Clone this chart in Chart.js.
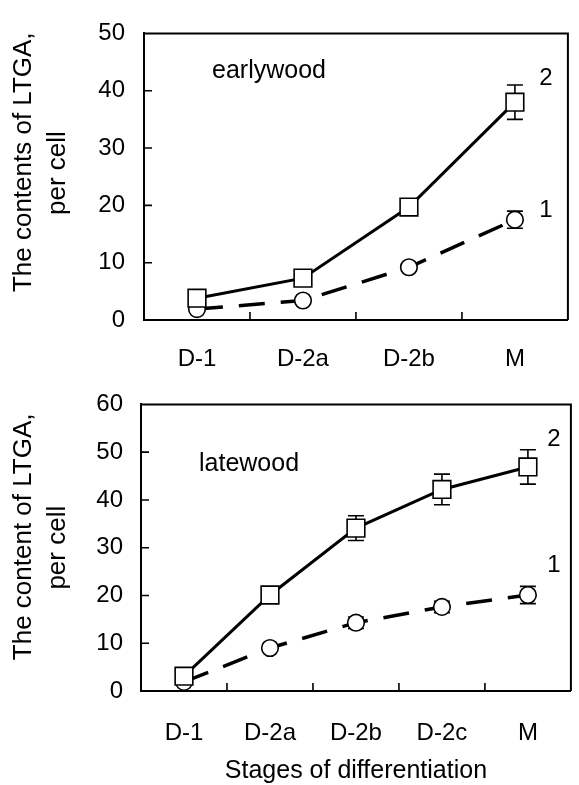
<!DOCTYPE html>
<html>
<head>
<meta charset="utf-8">
<script src="https://cdn.jsdelivr.net/npm/chart.js@4.4.0/dist/chart.umd.min.js"></script>
<style>
  html, body { margin: 0; padding: 0; background: #fff; overflow: hidden; }
  #wrap { width: 579px; height: 785px; overflow: hidden; }
  canvas { display: block; }
</style>
</head>
<body>
<div id="wrap">
  <canvas id="early" width="582" height="372"></canvas>
  <canvas id="late" width="585" height="413"></canvas>
</div>
<script>
// earlywood (top panel)
const earlyStages = ["D-1", "D-2a", "D-2b", "M"];
const earlyCurve1 = [1.9, 3.4, 9.2, 17.5];
const earlyCurve1Err = [0, 0, 0, 1.5];
const earlyCurve2 = [3.8, 7.3, 19.7, 38.0];
const earlyCurve2Err = [0, 0, 0, 3.0];

// latewood (bottom panel)
const lateStages = ["D-1", "D-2a", "D-2b", "D-2c", "M"];
const lateCurve1 = [1.9, 9.0, 14.3, 17.6, 20.1];
const lateCurve1Err = [0, 0, 1.2, 1.2, 1.8];
const lateCurve2 = [3.1, 20.1, 34.1, 42.2, 46.9];
const lateCurve2Err = [0, 0, 2.6, 3.2, 3.6];

const FONT = "'Liberation Sans', Arial, sans-serif";
Chart.defaults.font.family = FONT;
Chart.defaults.color = "#000";

// error bars go under the lines and markers
const errorBars = {
  id: "errorBars",
  beforeDatasetsDraw(chart) {
    const ctx = chart.ctx;
    const y = chart.scales.y;
    ctx.save();
    ctx.strokeStyle = "#000";
    ctx.lineWidth = 1.6;
    chart.data.datasets.forEach((ds, di) => {
      if (!ds.errors) return;
      const meta = chart.getDatasetMeta(di);
      ds.data.forEach((v, i) => {
        const e = ds.errors[i];
        if (!e) return;
        const x = meta.data[i].x;
        const top = y.getPixelForValue(v + e);
        const bot = y.getPixelForValue(v - e);
        ctx.beginPath();
        ctx.moveTo(x, top); ctx.lineTo(x, bot);
        ctx.moveTo(x - 8, top); ctx.lineTo(x + 8, top);
        ctx.moveTo(x - 8, bot); ctx.lineTo(x + 8, bot);
        ctx.stroke();
      });
    });
    ctx.restore();
  }
};

// top/right frame lines, inward tick marks and text notes
const frame = {
  id: "frame",
  afterDraw(chart, args, opts) {
    const ctx = chart.ctx;
    const a = chart.chartArea;
    const xs = chart.scales.x, ys = chart.scales.y;
    ctx.save();
    ctx.strokeStyle = "#000";
    ctx.lineWidth = 2;
    ctx.beginPath();
    ctx.moveTo(a.left, a.top); ctx.lineTo(a.right, a.top); ctx.lineTo(a.right, a.bottom);
    ctx.stroke();
    ctx.lineWidth = 1.6;
    ctx.beginPath();
    const n = chart.data.labels.length;
    for (let i = 1; i < n; i++) {
      const x = (xs.getPixelForValue(i - 1) + xs.getPixelForValue(i)) / 2;
      ctx.moveTo(x, a.bottom); ctx.lineTo(x, a.bottom - 8);
    }
    ys.ticks.forEach((t) => {
      if (t.value <= ys.min || t.value >= ys.max) return;
      const y = ys.getPixelForValue(t.value);
      ctx.moveTo(a.left, y); ctx.lineTo(a.left + 8, y);
    });
    ctx.stroke();
    ctx.fillStyle = "#000";
    ctx.textBaseline = "middle";
    (opts.notes || []).forEach((nt) => {
      ctx.font = nt.size + "px " + FONT;
      ctx.textAlign = nt.align || "left";
      const x = nt.atLast ? xs.getPixelForValue(n - 1) + nt.dx : a.left + nt.dx;
      ctx.fillText(nt.text, x, ys.getPixelForValue(nt.y));
    });
    ctx.restore();
  }
};

function makePanel(id, stages, c1, e1, c2, e2, yMax, yTitle, xTitle, layout, notes) {
  return new Chart(document.getElementById(id), {
    type: "line",
    data: {
      labels: stages,
      datasets: [
        {
          label: "2",
          data: c2,
          errors: e2,
          order: 1,
          borderColor: "#000",
          borderWidth: 3,
          pointStyle: "rect",
          pointRadius: 12.5,
          pointBorderWidth: 1.6,
          pointBackgroundColor: "#fff",
          pointBorderColor: "#000",
          clip: false,
        },
        {
          label: "1",
          data: c1,
          errors: e1,
          order: 2,
          borderColor: "#000",
          borderWidth: 3.5,
          borderDash: [26, 16],
          pointStyle: "circle",
          pointRadius: 8.3,
          pointBorderWidth: 1.6,
          pointBackgroundColor: "#fff",
          pointBorderColor: "#000",
          clip: false,
        },
      ],
    },
    options: {
      responsive: false,
      animation: false,
      layout: { padding: { top: layout.top, left: 0, right: 0, bottom: 0 } },
      plugins: {
        legend: { display: false },
        tooltip: { enabled: false },
        frame: { notes: notes },
      },
      scales: {
        x: {
          type: "category",
          offset: true,
          grid: { display: false, drawTicks: false, tickLength: 0 },
          border: { display: true, color: "#000", width: 2 },
          ticks: { font: { size: 24 }, padding: layout.xPad, maxRotation: 0, autoSkip: false },
          title: xTitle
            ? { display: true, text: xTitle, font: { size: 25, lineHeight: 1 }, padding: { top: 0, bottom: 1 } }
            : { display: false },
          afterFit(s) { s.height = layout.xHeight; },
        },
        y: {
          min: 0,
          max: yMax,
          grid: { display: false, drawTicks: false, tickLength: 0 },
          border: { display: true, color: "#000", width: 2 },
          ticks: { stepSize: 10, font: { size: 24 }, padding: layout.yPad },
          title: { display: true, text: yTitle, font: { size: 26, lineHeight: 1.3 }, padding: { top: 7, bottom: 0 } },
          afterFit(s) { s.width = layout.yWidth; },
        },
      },
    },
    plugins: [errorBars, frame],
  });
}

makePanel("early", earlyStages, earlyCurve1, earlyCurve1Err, earlyCurve2, earlyCurve2Err, 50,
  ["    The contents of LTGA,", " per cell"], null,
  { top: 25, xHeight: 52, xPad: 25, yPad: 19, yWidth: 144 },
  [
    { text: "earlywood", size: 25, dx: 68, y: 43.5 },
    { text: "2", size: 24, dx: 31, y: 42.2, atLast: true, align: "center" },
    { text: "1", size: 24, dx: 31, y: 19.2, atLast: true, align: "center" },
  ]);

makePanel("late", lateStages, lateCurve1, lateCurve1Err, lateCurve2, lateCurve2Err, 60,
  ["   The content of LTGA,", "per cell"], "Stages of differentiation",
  { top: 29, xHeight: 94, xPad: 28, yPad: 18, yWidth: 141 },
  [
    { text: "latewood", size: 25, dx: 58, y: 47.6 },
    { text: "2", size: 24, dx: 26, y: 52.6, atLast: true, align: "center" },
    { text: "1", size: 24, dx: 26, y: 26.3, atLast: true, align: "center" },
  ]);
</script>
</body>
</html>
